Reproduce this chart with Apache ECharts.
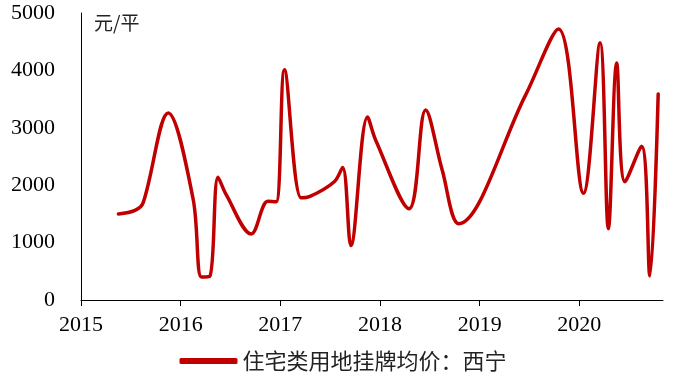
<!DOCTYPE html>
<html><head><meta charset="utf-8">
<script src="https://cdn.jsdelivr.net/npm/echarts@6/dist/echarts.min.js"></script>
<style>html,body{margin:0;padding:0;background:#fff}#c{width:686px;height:390px}</style>
</head><body><div id="c"></div>
<script>
// Monthly listing prices (元/平), month strings and values
const months = ['2015-05','2015-07','2015-08','2015-11','2016-02','2016-03','2016-04','2016-05','2016-06','2016-09','2016-11','2016-12',
  '2017-01','2017-03','2017-04','2017-07','2017-08','2017-09','2017-11','2017-12','2018-04','2018-06','2018-08','2018-10',
  '2019-06','2019-10','2020-01','2020-03','2020-04','2020-05','2020-06','2020-08','2020-09','2020-10'];
const values = [1500,1560,1700,3260,1760,400,410,2140,1830,1150,1720,1710,
  4010,1780,1800,2060,2310,950,3190,2780,1590,3310,2260,1330,
  3560,4720,1860,4480,1240,4130,2060,2680,420,3590];
const yearTicks = [2015,2016,2017,2018,2019,2020];
const seriesName = '住宅类用地挂牌均价：西宁';
const unitLabel = '元/平';

function toYear(m){const p=m.split('-');return +p[0]+(+p[1]-0.5)/12;}
const data = months.map((m,i)=>[toYear(m),values[i]]);

const chart = echarts.init(document.getElementById('c'));
chart.setOption({
  animation:false,
  backgroundColor:'#fff',
  grid:{left:81,right:23,top:13,bottom:90,containLabel:false},
  title:{text:unitLabel,left:89,top:8,textStyle:{fontFamily:'Noto Sans CJK SC',fontSize:19,fontWeight:'normal',color:'#222'}},
  legend:{bottom:13,left:'center',icon:'roundRect',itemWidth:58,itemHeight:6,itemGap:5,
    textStyle:{fontFamily:'Noto Sans CJK SC',fontSize:22,color:'#222'},data:[seriesName]},
  xAxis:{type:'value',min:2015,max:2020.84,interval:1,
    axisLine:{lineStyle:{color:'#000',width:1}},
    axisTick:{show:true,length:6,lineStyle:{color:'#000'},customValues:yearTicks},
    axisLabel:{customValues:yearTicks,margin:14,fontFamily:'Liberation Serif',fontSize:22,color:'#000',formatter:v=>String(Math.round(v))},
    splitLine:{show:false}},
  yAxis:{type:'value',min:0,max:5000,interval:1000,
    axisLine:{show:true,lineStyle:{color:'#000',width:1}},
    axisTick:{show:false},
    axisLabel:{margin:26,fontFamily:'Liberation Serif',fontSize:22,color:'#000',formatter:v=>String(v)},
    splitLine:{show:false}},
  series:[{name:seriesName,type:'line',data:data,smooth:0.35,showSymbol:false,
    lineStyle:{color:'#C00000',width:3.5,cap:'round',join:'round'},itemStyle:{color:'#C00000'}}]
});
</script></body></html>
